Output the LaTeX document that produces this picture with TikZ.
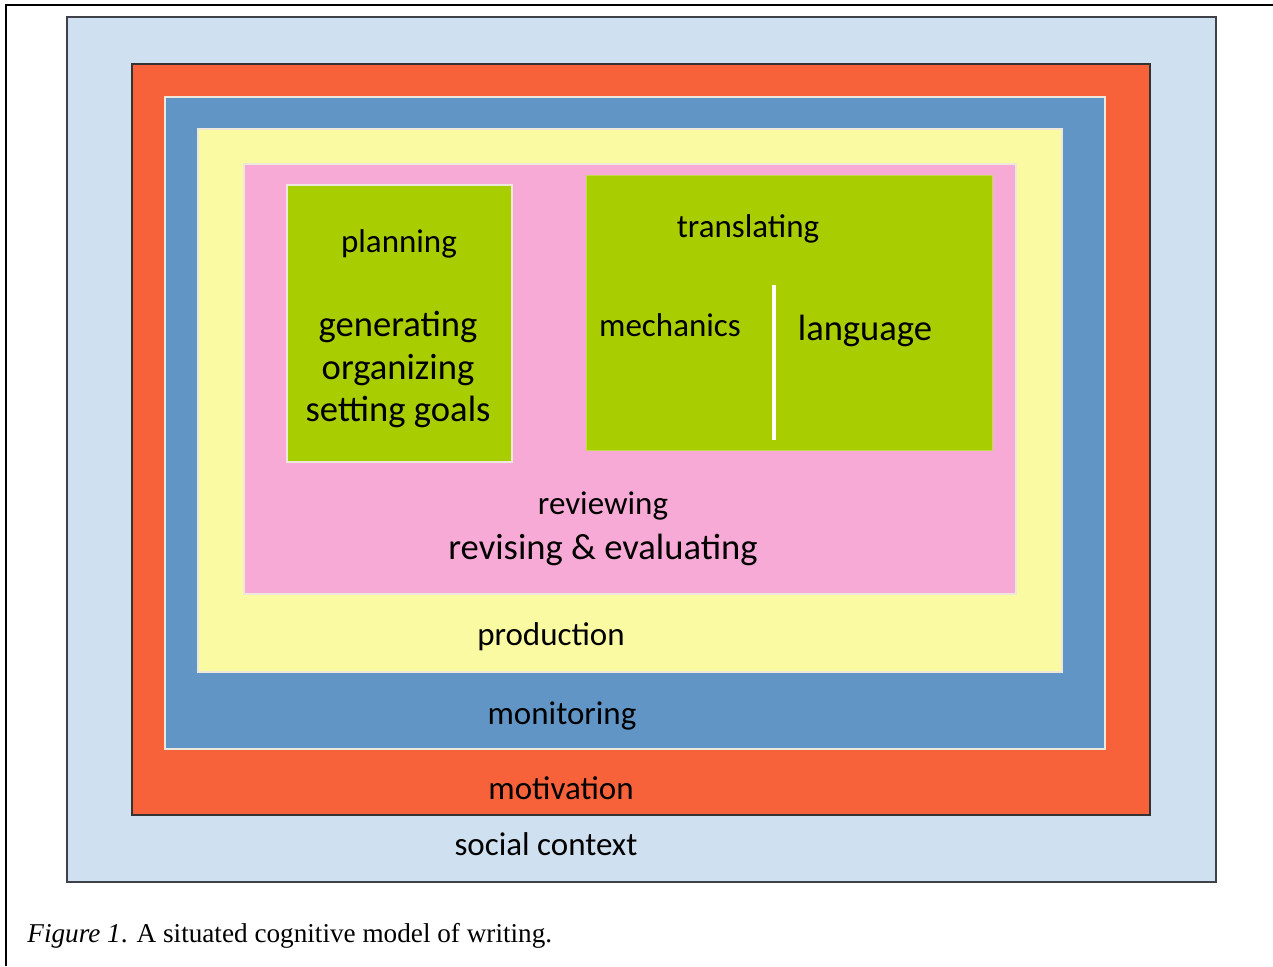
\documentclass[tikz,border=0pt]{standalone}
\usepackage{fontspec}
\setmainfont{Liberation Serif}
\newfontfamily\boxfont{Carlito}
\definecolor{socblue}{HTML}{CFE0F1}
\definecolor{motorange}{HTML}{F8623A}
\definecolor{monblue}{HTML}{6095C6}
\definecolor{prodyellow}{HTML}{FAFAA2}
\definecolor{revpink}{HTML}{F8AAD6}
\definecolor{procgreen}{HTML}{A8CD00}
\definecolor{edgegray}{HTML}{3E4248}
\definecolor{paleedge}{HTML}{EEE8DC}

\begin{document}
\begin{tikzpicture}[x=0.5pt,y=-0.5pt,
  lbl/.style={font=\boxfont\fontsize{16.5}{20}\selectfont,inner sep=0pt,anchor=base},
  biglbl/.style={font=\boxfont\fontsize{18.3}{21.5}\selectfont,inner sep=0pt,anchor=base},
  layer/.style={line width=0.8pt,draw=paleedge}]
  \useasboundingbox (0,0) rectangle (1273,966);
  \draw[line width=1.2pt] (6,966) -- (6,5) -- (1273,5);

  \draw[line width=1pt,draw=edgegray,fill=socblue] (67,17) rectangle (1216,882);
  \draw[line width=0.8pt,draw=black!80,fill=motorange] (132,64) rectangle (1150,815);
  \draw[layer,fill=monblue] (165,97) rectangle (1105,749);
  \draw[layer,fill=prodyellow] (198,129) rectangle (1062,672);
  \draw[layer,fill=revpink] (244,164) rectangle (1016,594);
  \draw[layer,fill=procgreen] (287,185) rectangle (512,462);
  \draw[line width=0.4pt,draw=procgreen!70!white,fill=procgreen] (586,175) rectangle (992,450);
  \draw[line width=2pt,white] (774,285) -- (774,440);

  \node[lbl] (plan) at (399,252) {planning};
  \node[biglbl] (gen) at (398,336) {generating};
  \node[biglbl] (org) at (398,379) {organizing};
  \node[biglbl] (goal) at (398,421) {setting goals};

  \node[lbl] (trans) at (748,237) {translating};
  \node[lbl] (mech) at (670,336) {mechanics};
  \node[biglbl] (lang) at (865,340) {language};

  \node[lbl] (rev) at (603,514) {reviewing};
  \node[biglbl] (reveval) at (603,559) {revising \& evaluating};

  \node[lbl] (prod) at (551,645) {production};
  \node[lbl] (mon) at (562,724) {monitoring};
  \node[lbl] (mot) at (561,799) {motivation};
  \node[lbl] (soc) at (546,855) {social context};

  \node[font=\fontsize{13.6}{16}\selectfont,inner sep=0pt,anchor=base west] (cap) at (27,942)
    {\textit{Figure 1}. A situated cognitive model of writing.};
\end{tikzpicture}
\end{document}
